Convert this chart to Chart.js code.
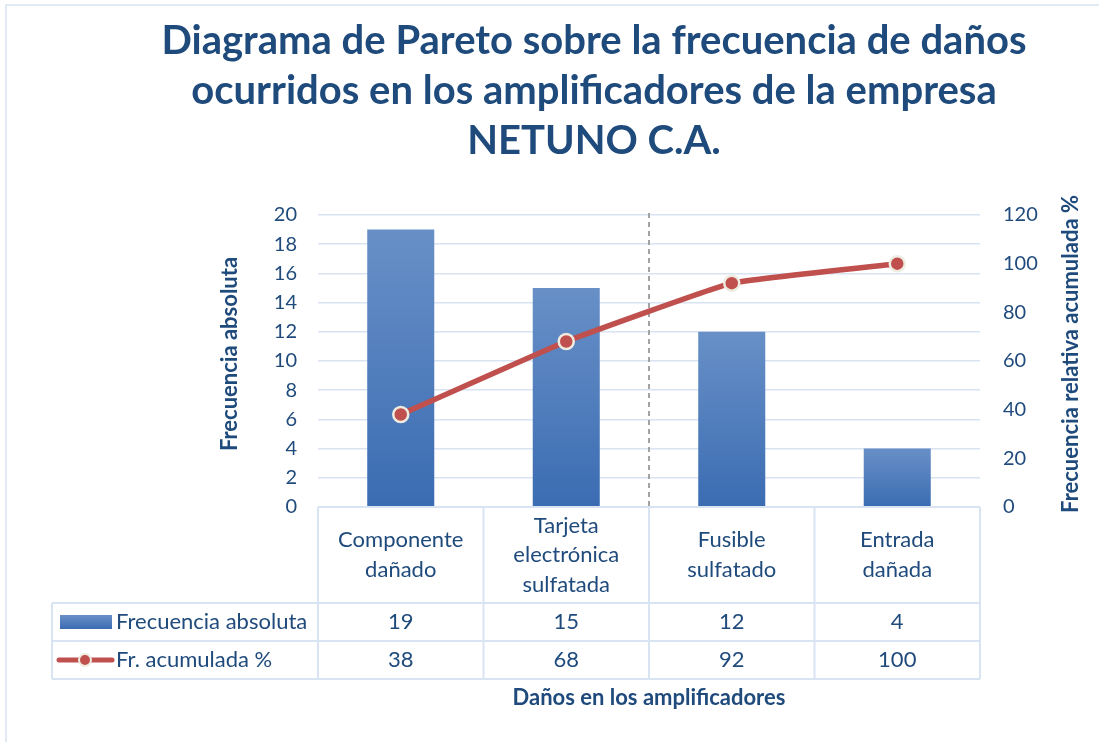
<!DOCTYPE html>
<html>
<head>
<meta charset="utf-8">
<script src="https://cdn.jsdelivr.net/npm/chart.js@4"></script>
<style>
  html, body { margin: 0; padding: 0; background: #fff; }
  #wrap { width: 1099px; height: 742px; }
</style>
</head>
<body>
<div id="wrap"><canvas id="myChart" width="1099" height="742"></canvas></div>
<script>
// data
var categories = [['Componente', 'dañado'], ['Tarjeta', 'electrónica', 'sulfatada'], ['Fusible', 'sulfatado'], ['Entrada', 'dañada']];
var frecuencia = [19, 15, 12, 4];
var acumulada = [38, 68, 92, 100];
var titleLines = ['Diagrama de Pareto sobre la frecuencia de daños', 'ocurridos en los amplificadores de la empresa', 'NETUNO C.A.'];

var TXT = '#1f4a7c';
var GRID = '#d9e4f3';
var FONT = 'Lato';
var RED = '#c0504d';

// bar fill, lighter at the top of each bar
function barFill(c) {
    var chart = c.chart, y = chart.scales.y;
    if (!y || c.raw === undefined) return '#4f81bd';
    var top = y.getPixelForValue(c.raw), bot = y.getPixelForValue(0);
    if (!isFinite(top) || !isFinite(bot) || top === bot) return '#4f81bd';
    var g = chart.ctx.createLinearGradient(0, top, 0, bot);
    g.addColorStop(0, '#6890c7');
    g.addColorStop(1, '#3b6cb2');
    return g;
}

var paretoPlugin = {
    id: 'pareto',
    beforeDatasetsDraw: function (chart) {
        var ctx = chart.ctx, a = chart.chartArea, x = chart.scales.x;
        // 80 % cut line between 2nd and 3rd category
        var cut = (x.getPixelForValue(1) + x.getPixelForValue(2)) / 2;
        ctx.save();
        ctx.strokeStyle = '#a3a3a3';
        ctx.lineWidth = 2;
        ctx.setLineDash([5, 4]);
        ctx.beginPath();
        ctx.moveTo(cut, a.top - 2);
        ctx.lineTo(cut, a.bottom);
        ctx.stroke();
        ctx.restore();
    },
    afterDraw: function (chart) {
        var ctx = chart.ctx, a = chart.chartArea;
        var n = categories.length, w = (a.right - a.left) / n;
        ctx.save();

        // chart frame
        ctx.strokeStyle = GRID;
        ctx.lineWidth = 1.5;
        ctx.strokeRect(6, 5, 1200, 800);

        // title
        ctx.fillStyle = TXT;
        ctx.textAlign = 'center';
        ctx.textBaseline = 'middle';
        ctx.font = 'bold 40px ' + FONT;
        titleLines.forEach(function (t, i) { ctx.fillText(t, 594, 41 + i * 50); });

        // axis titles
        ctx.font = 'bold 22px ' + FONT;
        ctx.save();
        ctx.translate(230, 354);
        ctx.rotate(-Math.PI / 2);
        ctx.fillText('Frecuencia absoluta', 0, 0);
        ctx.restore();
        ctx.save();
        ctx.translate(1071, 354);
        ctx.rotate(-Math.PI / 2);
        ctx.fillText('Frecuencia relativa acumulada %', 0, 0);
        ctx.restore();
        ctx.fillText('Daños en los amplificadores', (a.left + a.right) / 2, 698);

        // data table
        var hTop = a.bottom, hBot = 603, r1 = 641, r2 = 679, legL = 52;
        ctx.strokeStyle = GRID;
        ctx.lineWidth = 2;
        ctx.beginPath();
        ctx.moveTo(a.left, hTop); ctx.lineTo(a.right, hTop);
        [hBot, r1, r2].forEach(function (yy) { ctx.moveTo(legL, yy); ctx.lineTo(a.right, yy); });
        for (var i = 0; i <= n; i++) {
            var xx = a.left + i * w;
            ctx.moveTo(xx, hTop); ctx.lineTo(xx, r2);
        }
        ctx.moveTo(legL, hBot); ctx.lineTo(legL, r2);
        ctx.stroke();

        ctx.font = '22px ' + FONT;
        ctx.fillStyle = TXT;
        for (var j = 0; j < n; j++) {
            var cx = chart.scales.x.getPixelForValue(j);
            var lines = categories[j], lh = 29.5;
            var y0 = (hTop + hBot) / 2 - (lines.length - 1) * lh / 2;
            lines.forEach(function (t, k) { ctx.fillText(t, cx, y0 + k * lh); });
            ctx.fillText(String(frecuencia[j]), cx, (hBot + r1) / 2);
            ctx.fillText(String(acumulada[j]), cx, (r1 + r2) / 2);
        }

        // legend keys in the table
        var ym1 = (hBot + r1) / 2, ym2 = (r1 + r2) / 2;
        var g = ctx.createLinearGradient(0, ym1 - 7, 0, ym1 + 7);
        g.addColorStop(0, '#6890c7');
        g.addColorStop(1, '#3b6cb2');
        ctx.fillStyle = g;
        ctx.fillRect(60, ym1 - 7, 52, 14);
        ctx.strokeStyle = RED;
        ctx.lineWidth = 5;
        ctx.lineCap = 'round';
        ctx.beginPath();
        ctx.moveTo(59, ym2); ctx.lineTo(112, ym2);
        ctx.stroke();
        ctx.beginPath();
        ctx.arc(85, ym2, 6, 0, Math.PI * 2);
        ctx.fillStyle = RED;
        ctx.fill();
        ctx.strokeStyle = '#eeebe0';
        ctx.lineWidth = 2;
        ctx.stroke();

        ctx.fillStyle = TXT;
        ctx.textAlign = 'left';
        ctx.fillText('Frecuencia absoluta', 116, ym1);
        ctx.fillText('Fr. acumulada %', 116, ym2);
        ctx.restore();
    }
};

var ctx = document.getElementById('myChart').getContext('2d');
var chart = new Chart(ctx, {
    data: {
        labels: categories,
        datasets: [{
            type: 'line',
            label: 'Fr. acumulada %',
            data: acumulada,
            yAxisID: 'y1',
            borderColor: RED,
            borderWidth: 5.5,
            pointRadius: 7.5,
            pointBackgroundColor: RED,
            pointBorderColor: '#eeebe0',
            pointBorderWidth: 2.5,
            tension: 0.1,
            order: 0
        }, {
            type: 'bar',
            label: 'Frecuencia absoluta',
            data: frecuencia,
            yAxisID: 'y',
            backgroundColor: barFill,
            categoryPercentage: 1,
            barPercentage: 0.405,
            order: 1
        }]
    },
    options: {
        responsive: false,
        animation: false,
        layout: { padding: { top: 215, bottom: 0, left: 0, right: 0 } },
        plugins: { legend: { display: false }, tooltip: { enabled: false } },
        scales: {
            x: {
                grid: { display: false },
                border: { display: false },
                ticks: { display: false },
                afterFit: function (s) { s.height = 235; }
            },
            y: {
                position: 'left',
                min: 0, max: 20,
                ticks: { stepSize: 2, padding: 21, color: TXT, font: { family: FONT, size: 20 } },
                grid: { color: GRID, lineWidth: 1.5, drawTicks: false },
                border: { display: false },
                afterFit: function (s) { s.width = 318; }
            },
            y1: {
                position: 'right',
                min: 0, max: 120,
                ticks: { stepSize: 20, padding: 23, color: TXT, font: { family: FONT, size: 20 } },
                grid: { display: false, drawTicks: false },
                border: { display: false },
                afterFit: function (s) { s.width = 119; }
            }
        }
    },
    plugins: [paretoPlugin]
});
</script>
</body>
</html>
